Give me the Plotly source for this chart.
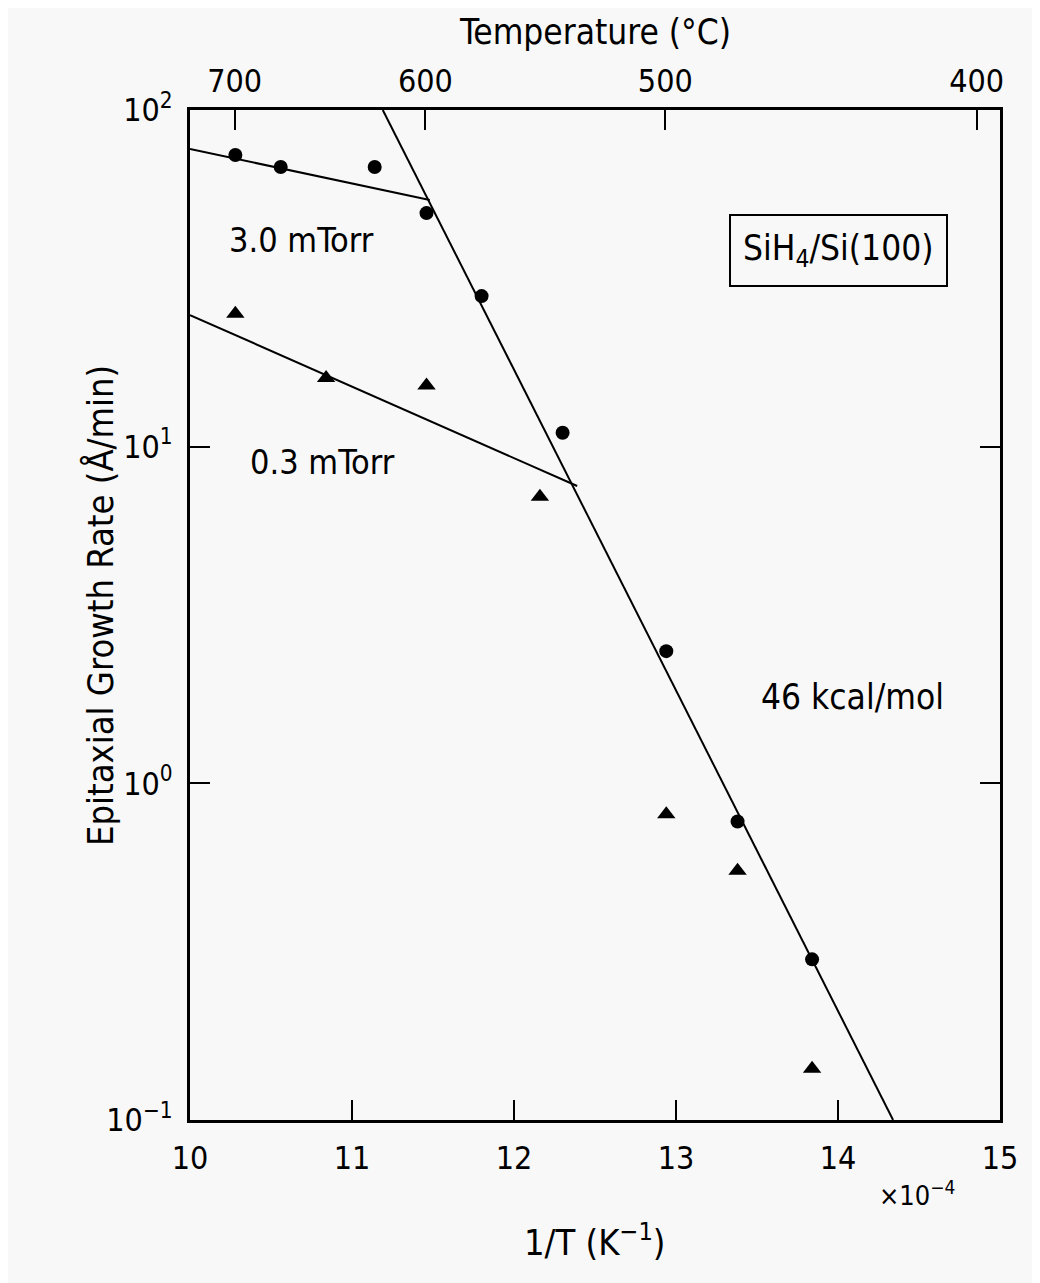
import plotly.graph_objects as go

# ---- data (1/T in units of 1e-4 K^-1, growth rate in Å/min) ----
circ_x = [10.28, 10.56, 11.14, 11.46, 11.80, 12.30, 12.94, 13.38, 13.84]
circ_y = [73.5, 67.7, 67.7, 49.4, 28.0, 11.0, 2.47, 0.77, 0.30]

tri_x = [10.28, 10.84, 11.46, 12.16, 12.94, 13.38, 13.84]
tri_y = [24.8, 16.0, 15.2, 7.1, 0.81, 0.55, 0.142]

fit_hi_x = [10.0, 11.48]          # 3.0 mTorr low-temperature-limited fit
fit_hi_y = [76.6, 54.0]
fit_lo_x = [10.0, 12.39]          # 0.3 mTorr fit
fit_lo_y = [24.6, 7.64]
fit_act_x = [11.19, 14.34]        # 46 kcal/mol activation line
fit_act_y = [100.0, 0.1]

temp_c = [700, 600, 500, 400]
temp_pos = [1e4 / (t + 273.15) for t in temp_c]
temp_labels = [str(t) for t in temp_c]

x_ticks = [10, 11, 12, 13, 14, 15]
y_ticks = [0.1, 1, 10, 100]
y_labels = ["10<sup>\u22121</sup>", "10<sup>0</sup>", "10<sup>1</sup>", "10<sup>2</sup>"]

FONT = "DejaVu Sans Condensed, Liberation Sans Narrow, Liberation Sans, sans-serif"
BG = "#f8f8f8"

fig = go.Figure()
for xs, ys in [(fit_hi_x, fit_hi_y), (fit_lo_x, fit_lo_y), (fit_act_x, fit_act_y)]:
    fig.add_trace(go.Scatter(x=xs, y=ys, mode="lines",
                             line=dict(color="black", width=2), showlegend=False))
fig.add_trace(go.Scatter(x=circ_x, y=circ_y, mode="markers",
                         marker=dict(symbol="circle", size=14, color="black"),
                         showlegend=False))
fig.add_trace(go.Scatter(x=tri_x, y=tri_y, mode="markers",
                         marker=dict(symbol="triangle-up", size=16, color="black"),
                         showlegend=False))
# invisible trace on top axis so it renders
fig.add_trace(go.Scatter(x=[10, 15], y=[1, 1], xaxis="x2", mode="markers",
                         marker=dict(opacity=0), showlegend=False, hoverinfo="skip"))

# page has an 8px body margin; target pixel frame: x 190..1000, y 110..1120
W, H = 1040, 1283
OFF = 8
L, R, T, B = 190 - OFF, 40 + OFF, 110 - OFF, 163 + OFF
pw, ph = W - L - R, H - T - B
def px(xs): return (xs - OFF - L) / pw
def py(ys): return (H - B - (ys - OFF)) / ph

axis_common = dict(ticks="inside", ticklen=20, tickwidth=2, tickcolor="black",
                   showline=True, linecolor="black", linewidth=3,
                   showgrid=False, zeroline=False, tickfont=dict(size=32))

fig.update_layout(
    width=W, height=H,
    margin=dict(l=L, r=R, t=T, b=B),
    paper_bgcolor=BG, plot_bgcolor=BG,
    font=dict(family=FONT, size=34, color="black"),
    xaxis=dict(range=[10, 15], tickvals=x_ticks, ticktext=[str(v) for v in x_ticks],
               mirror=False, ticklabelstandoff=8, **axis_common),
    xaxis2=dict(range=[10, 15], overlaying="x", side="top", anchor="y",
                tickvals=temp_pos, ticktext=temp_labels, ticklabelstandoff=2,
                **axis_common),
    yaxis=dict(type="log", range=[-1, 2], tickvals=y_ticks, ticktext=y_labels,
               mirror="ticks", ticklabelstandoff=8, **axis_common),
    annotations=[
        dict(text="Temperature (°C)", x=px(595), y=py(32), xref="paper", yref="paper",
             xanchor="center", yanchor="middle", showarrow=False, font=dict(size=35)),
        dict(text="1/T (K<sup>\u22121</sup>)", x=px(595), y=py(1240), xref="paper",
             yref="paper", xanchor="center", yanchor="middle", showarrow=False,
             font=dict(size=36)),
        dict(text="Epitaxial Growth Rate (Å/min)", textangle=-90, xref="paper",
             yref="paper", x=px(100), y=py(606), xanchor="center", yanchor="middle",
             showarrow=False, font=dict(size=36)),
        dict(text="\u00d710<sup>\u22124</sup>", xref="paper", yref="paper",
             x=px(917), y=py(1193), xanchor="center", yanchor="middle",
             showarrow=False, font=dict(size=27)),
        dict(text="3.0 mTorr", x=10.69, y=1.614, xref="x", yref="y", showarrow=False),
        dict(text="0.3 mTorr", x=10.82, y=0.955, xref="x", yref="y", showarrow=False),
        dict(text="46 kcal/mol", x=14.09, y=0.257, xref="x", yref="y", showarrow=False,
             font=dict(size=35)),
        dict(text="SiH<sub>4</sub>/Si(100)", x=14.0, y=1.584, xref="x", yref="y",
             showarrow=False, bordercolor="black", borderwidth=2, borderpad=12,
             bgcolor=BG, font=dict(size=35)),
    ],
)

fig.write_html("out.html")
